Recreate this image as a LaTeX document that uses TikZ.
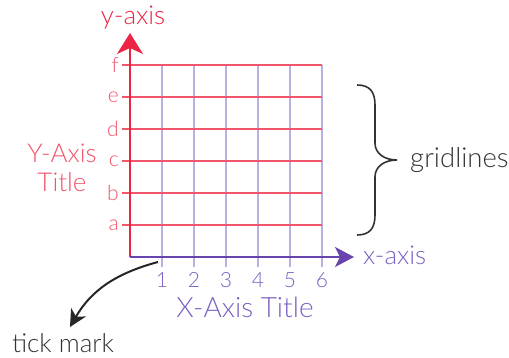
\documentclass[tikz,border=0pt]{standalone}
\usepackage{fontspec}
\setmainfont{Lato Light}
\usetikzlibrary{arrows.meta}
\definecolor{axisred}{HTML}{EE2445}
\definecolor{gridred}{HTML}{F2546A}
\definecolor{axispurple}{HTML}{6A44AE}
\definecolor{gridpurple}{HTML}{B9B0E2}
\definecolor{textpurple}{HTML}{7C60C2}
\definecolor{textgray}{HTML}{333333}
\begin{document}
\begin{tikzpicture}[x=1pt,y=1pt,every node/.style={font=\fontsize{26}{29}\selectfont,inner sep=2pt},
  ticklab/.style={font=\fontsize{21}{22}\selectfont}]
\useasboundingbox (0,0) rectangle (509,358);
% grid, vertical lines first
\foreach \i in {1,...,6} \draw[gridpurple,line width=1.1pt] (130+32*\i,91) -- (130+32*\i,293);
\foreach \i in {1,...,6} \draw[gridred,line width=1.1pt] (122,101+32*\i) -- (322,101+32*\i);
% tick labels
\foreach \i/\l in {1/a,2/b,3/c,4/d,5/e,6/f} \node[ticklab,gridred,anchor=east] (yl\i) at (121,101+32*\i) {\l};
\foreach \i in {1,...,6} \node[ticklab,textpurple] (xl\i) at (130+32*\i,78) {\i};
% axes
\coordinate (origin) at (130,101);
\coordinate (ytip) at (130,325);
\coordinate (xtip) at (354,101);
\draw[axisred,line width=2pt,-{Stealth[length=21pt,width=26pt,inset=6pt]}] (origin) -- (ytip);
\draw[axispurple,line width=2.4pt,-{Stealth[length=19pt,width=20pt,inset=5pt]}] (origin) -- (xtip);
\node[axisred] (ylab) at (133,340) {y-axis};
\node[textpurple,anchor=west] (xlab) at (361,103) {x-axis};
\node[gridred,align=center] (ytitle) at (62,190) {Y-Axis\\Title};
\node[textpurple,font=\fontsize{28}{30}\selectfont] (xtitle) at (245,51) {X-Axis Title};
% brace
\coordinate (btop) at (357,273);
\coordinate (bbot) at (357,123);
\coordinate (btip) at (397,198);
\draw[textgray,line width=1.6pt] (btop) .. controls (370,273) and (375,266) .. (375,253) -- (375,215)
  .. controls (375,204) and (385,198) .. (btip) .. controls (385,198) and (375,192) .. (375,181)
  -- (375,143) .. controls (375,130) and (370,123) .. (bbot);
\node[textgray,anchor=west,font=\fontsize{27.5}{30}\selectfont] (grid) at (408,198) {gridlines};
% tick mark callout
\coordinate (tick) at (158,96);
\node[textgray] (tickmark) at (63,15) {tick mark};
\draw[black!85,line width=2pt,-{Stealth[length=17pt,width=17pt,inset=5pt]}] (tick) to[out=195,in=60] (70,31);
\end{tikzpicture}
\end{document}
